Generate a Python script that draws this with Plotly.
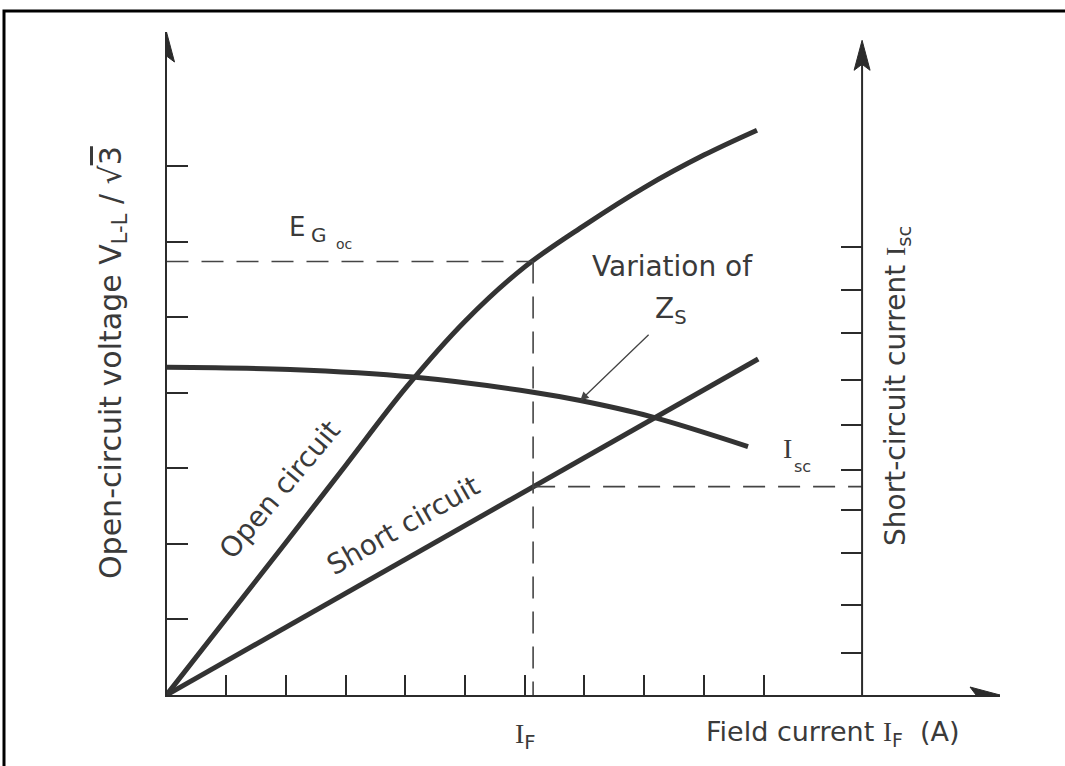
import plotly.graph_objects as go

# ---------------- data ----------------
# Open-circuit characteristic: field current vs. open-circuit voltage
oc_if = [0, 1, 2, 3, 4, 5, 6, 7, 8, 9, 9.89]
oc_v = [0, 1.01, 2.02, 3.04, 4.06, 4.95, 5.67, 6.22, 6.72, 7.15, 7.48]
# Short-circuit characteristic: field current vs. short-circuit current
sc_if = [0, 6.14, 9.91]
sc_i = [0, 2.76, 4.45]
# Variation of synchronous impedance Zs
zs_if = [0, 2.07, 4.13, 6.14, 6.93, 8.10, 9.74]
zs_val = [4.34, 4.31, 4.21, 4.01, 3.90, 3.69, 3.29]

# operating point
if_op = 6.14
eg_oc = 5.74
isc_op = 2.76

# axis ticks
x_ticks = [1, 2, 3, 4, 5, 6, 7, 8, 9, 10]
v_ticks = [1, 2, 3, 4, 5, 6, 7]
isc_ticks = [0.56, 1.19, 1.88, 2.45, 2.98, 3.58, 4.17, 4.79, 5.36, 5.93]
x_right_axis = 11.65

X_MAX = 13.96
Y_MAX = 8.78
Y2_TOP = 8.67

W, H = 1065, 766
INK = "#2b2b2b"
TXT = "#3a3a3a"
FONT = "DejaVu Sans"

fig = go.Figure()

curve = dict(color="#333333", width=5)
fig.add_trace(go.Scatter(x=oc_if, y=oc_v, mode="lines", line=dict(shape="spline", smoothing=1.0, **curve),
                         hoverinfo="skip"))
fig.add_trace(go.Scatter(x=sc_if, y=sc_i, mode="lines", line=curve, hoverinfo="skip"))
fig.add_trace(go.Scatter(x=zs_if, y=zs_val, mode="lines", line=dict(shape="spline", smoothing=1.0, **curve),
                         hoverinfo="skip"))

dash = dict(color="#444444", width=1.6, dash="22px,13px")
fig.add_trace(go.Scatter(x=[0, if_op], y=[eg_oc, eg_oc], mode="lines", line=dash, hoverinfo="skip"))
fig.add_trace(go.Scatter(x=[if_op, if_op], y=[eg_oc, 0], mode="lines", line=dash, hoverinfo="skip"))
fig.add_trace(go.Scatter(x=[if_op, x_right_axis], y=[isc_op, isc_op], mode="lines", line=dash, hoverinfo="skip"))

axis_common = dict(showgrid=False, zeroline=False, showticklabels=False, ticks="inside",
                   tickcolor=INK, tickwidth=1.6, fixedrange=True)

fig.update_layout(
    width=W, height=H,
    margin=dict(l=0, r=0, t=0, b=0),
    paper_bgcolor="white", plot_bgcolor="white",
    showlegend=False,
    xaxis=dict(domain=[166.5 / W, 1000 / W], range=[0, X_MAX], showline=True, linecolor=INK, linewidth=2,
               tickvals=x_ticks, ticklen=20, anchor="y", **axis_common),
    yaxis=dict(domain=[(H - 695) / H, (H - 32) / H], range=[0, Y_MAX], showline=True, linecolor=INK,
               linewidth=2, tickvals=v_ticks, ticklen=21, anchor="x", **axis_common),
    yaxis2=dict(overlaying="y", anchor="free", position=862 / W, side="right", range=[0, Y_MAX],
                showline=False, tickvals=isc_ticks, ticklen=21, **axis_common),
)
# empty trace to activate the right (short-circuit current) axis
fig.add_trace(go.Scatter(x=[], y=[], yaxis="y2", hoverinfo="skip"))

shapes = []
# right axis line
shapes.append(dict(type="line", xref="x", yref="y", x0=x_right_axis, x1=x_right_axis, y0=0, y1=Y2_TOP - 0.2,
                   line=dict(color=INK, width=2)))
# arrow heads (pixel-sized paths anchored in data space)
up = "M0,0 L-8,-30 L0,-24 L8,-30 Z"
right = "M0,0 L-30,8 L-24,0 L-30,-8 Z"
for xa, ya, p in [(0, Y_MAX, up), (x_right_axis, Y2_TOP, up), (X_MAX, 0, right)]:
    shapes.append(dict(type="path", xref="x", yref="y", xsizemode="pixel", ysizemode="pixel",
                       xanchor=xa, yanchor=ya, path=p, fillcolor=INK, line=dict(color=INK, width=1)))
# image border
shapes.append(dict(type="rect", xref="paper", yref="paper", x0=4 / W, x1=1.02, y0=-0.02, y1=(H - 11) / H,
                   line=dict(color="black", width=3), fillcolor="rgba(0,0,0,0)", layer="above"))
fig.update_layout(shapes=shapes)

SERIF_I = "<span style='font-family:Liberation Serif'>I</span>"

ann = []
def txt(text, x, y, size=24, angle=0, xref="x", yref="y", xanchor="center", yanchor="middle"):
    ann.append(dict(text=text, x=x, y=y, xref=xref, yref=yref, showarrow=False, textangle=angle,
                    xanchor=xanchor, yanchor=yanchor, font=dict(family=FONT, size=size, color=TXT)))

# axis titles
txt("Open-circuit voltage V<sub>L-L</sub> / √<span style='text-decoration:overline'>3</span>",
    112 / W, (H - 363) / H, size=30, angle=-90, xref="paper", yref="paper")
txt("Short-circuit current " + SERIF_I + "<sub>sc</sub>", 897 / W, (H - 386) / H, size=28, angle=-90,
    xref="paper", yref="paper")
txt("Field current " + SERIF_I + "<sub>F</sub>  (A)", 704 / W, (H - 733) / H, size=27,
    xref="paper", yref="paper", xanchor="left")
txt(SERIF_I + "<sub>F</sub>", 513 / W, (H - 736) / H, size=28, xref="paper", yref="paper", xanchor="left")

# curve labels
txt("Open circuit", 1.90, 2.72, size=28, angle=-50)
txt("Short circuit", 3.96, 2.25, size=28, angle=-29.6)
txt("Variation of", 8.47, 5.67, size=28)
txt("Z<sub>S</sub>", 8.45, 5.09, size=28)
txt("E", 2.02, 6.20, size=26, xanchor="left")
txt("G", 2.38, 6.09, size=20, xanchor="left")
txt("oc", 2.80, 5.97, size=14, xanchor="left")
txt(SERIF_I, 10.30, 3.26, size=28, xanchor="left")
txt("sc", 10.47, 3.03, size=16, xanchor="left")

# arrow pointing to the Zs curve
ann.append(dict(x=6.93, y=3.90, ax=8.10, ay=4.79, xref="x", yref="y", axref="x", ayref="y", text="",
                showarrow=True, arrowhead=2, arrowsize=1.3, arrowwidth=1.3, arrowcolor="#444444"))
fig.update_layout(annotations=ann)

fig.write_html("out.html", config={"displayModeBar": False},
               post_script="document.body.style.margin='0';")
